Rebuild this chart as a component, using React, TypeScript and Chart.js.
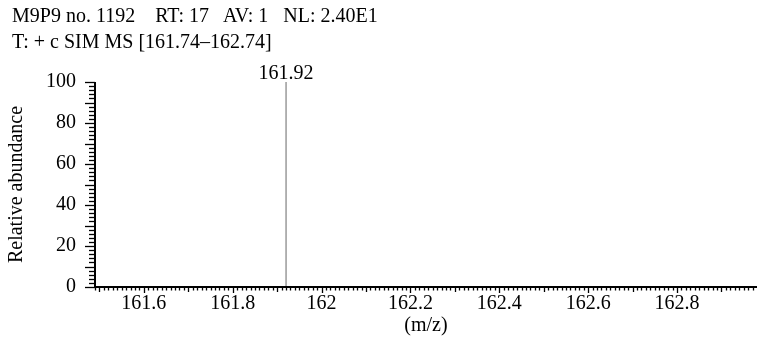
import React, { useEffect, useRef } from 'react';
import { Chart, registerables } from 'chart.js';

Chart.register(...registerables);

// ---- data ----
const headerLines = [
  'M9P9 no. 1192    RT: 17   AV: 1   NL: 2.40E1',
  'T: + c SIM MS [161.74–162.74]',
];
const peakMz = [161.92];
const peakAbundance = [100];
const peakLabels = ['161.92'];
const xTickValues = [161.6, 161.8, 162, 162.2, 162.4, 162.6, 162.8];
const yTickValues = [0, 20, 40, 60, 80, 100];
const xRange = [161.49, 162.98];
const yRange = [0, 100];
const xAxisTitle = '(m/z)';
const yAxisTitle = 'Relative abundance';

const FONT_FAMILY = "'Liberation Serif', 'Times New Roman', serif";
const FONT_SIZE = 20;

const axesPlugin = {
  id: 'msAxes',
  afterDatasetsDraw(chart: any) {
    const { ctx, chartArea } = chart;
    const xs = chart.scales.x;
    const ys = chart.scales.y;
    ctx.save();
    ctx.strokeStyle = '#000';
    // axis lines
    ctx.lineWidth = 2;
    ctx.beginPath();
    ctx.moveTo(chartArea.left, chartArea.top);
    ctx.lineTo(chartArea.left, chartArea.bottom);
    ctx.lineTo(chartArea.right, chartArea.bottom);
    ctx.stroke();
    // x ticks (every 0.01)
    ctx.lineWidth = 1.3;
    const i0 = Math.ceil(xRange[0] * 100);
    const i1 = Math.floor(xRange[1] * 100);
    for (let i = i0; i <= i1; i++) {
      const px = Math.round(xs.getPixelForValue(i / 100)) + 0.5;
      const len = i % 20 === 0 ? 5 : i % 10 === 0 ? 4 : 2.5;
      ctx.beginPath();
      ctx.moveTo(px, chartArea.bottom);
      ctx.lineTo(px, chartArea.bottom + 1 + len);
      ctx.stroke();
    }
    // y ticks (every 2)
    for (let v = yRange[0]; v <= yRange[1]; v += 2) {
      const py = Math.round(ys.getPixelForValue(v)) + 0.5;
      const len = v % 10 === 0 ? 9 : 5;
      ctx.beginPath();
      ctx.moveTo(chartArea.left, py);
      ctx.lineTo(chartArea.left - 1 - len, py);
      ctx.stroke();
    }
    // peak labels
    ctx.fillStyle = '#000';
    ctx.font = `${FONT_SIZE}px ${FONT_FAMILY}`;
    ctx.textAlign = 'center';
    ctx.textBaseline = 'alphabetic';
    peakMz.forEach((mz, k) => {
      const px = xs.getPixelForValue(mz);
      const py = ys.getPixelForValue(peakAbundance[k]);
      ctx.fillText(peakLabels[k], px, py - 3);
    });
    ctx.restore();
  },
};

export default function App() {
  const canvasRef = useRef<HTMLCanvasElement | null>(null);

  useEffect(() => {
    document.body.style.margin = '0';
    const canvas = canvasRef.current;
    if (!canvas) return;
    const peakData: any[] = [];
    peakMz.forEach((mz, k) => {
      peakData.push({ x: mz, y: yRange[0] });
      peakData.push({ x: mz, y: peakAbundance[k] });
      peakData.push({ x: mz, y: null });
    });
    const chart = new Chart(canvas, {
      type: 'line',
      data: {
        datasets: [
          {
            data: peakData,
            borderColor: '#808080',
            borderWidth: 1.2,
            pointRadius: 0,
            spanGaps: false,
            fill: false,
          },
        ],
      },
      options: {
        animation: false,
        responsive: false,
        devicePixelRatio: 1,
        layout: { padding: { left: 4, top: 82, right: 0, bottom: 0 } },
        plugins: {
          legend: { display: false },
          tooltip: { enabled: false },
          title: { display: false },
        },
        scales: {
          x: {
            type: 'linear',
            min: xRange[0],
            max: xRange[1],
            afterBuildTicks: (s: any) => {
              s.ticks = xTickValues.map((v) => ({ value: v }));
            },
            afterFit: (s: any) => {
              s.height = 71;
            },
            grid: { display: false, drawTicks: false },
            border: { display: false },
            ticks: {
              autoSkip: false,
              maxRotation: 0,
              padding: 5,
              color: '#000',
              font: { family: FONT_FAMILY, size: FONT_SIZE },
              callback: (v: any) => String(Number(v).toFixed(1)).replace(/\.0$/, ''),
            },
            title: {
              display: true,
              text: xAxisTitle,
              color: '#000',
              font: { family: FONT_FAMILY, size: FONT_SIZE },
              padding: { top: 0, bottom: 20 },
            },
          },
          y: {
            type: 'linear',
            min: yRange[0],
            max: yRange[1],
            afterBuildTicks: (s: any) => {
              s.ticks = yTickValues.map((v) => ({ value: v }));
            },
            afterFit: (s: any) => {
              s.width = 91;
            },
            grid: { display: false, drawTicks: false },
            border: { display: false },
            ticks: {
              padding: 19,
              color: '#000',
              font: { family: FONT_FAMILY, size: FONT_SIZE },
            },
            title: {
              display: true,
              text: yAxisTitle,
              color: '#000',
              font: { family: FONT_FAMILY, size: FONT_SIZE },
              padding: { top: 1, bottom: 0 },
            },
          },
        },
      },
      plugins: [axesPlugin],
    });
    return () => chart.destroy();
  }, []);

  return (
    <div style={{ position: 'relative', width: 757, height: 358, background: '#fff' }}>
      <canvas ref={canvasRef} width={757} height={358} style={{ position: 'absolute', left: 0, top: 0 }} />
      <div
        style={{
          position: 'absolute',
          left: 12,
          top: 2,
          fontFamily: FONT_FAMILY,
          fontSize: FONT_SIZE,
          lineHeight: '26px',
          color: '#000',
          whiteSpace: 'pre',
        }}
      >
        {headerLines.map((l, i) => (
          <div key={i}>{l}</div>
        ))}
      </div>
    </div>
  );
}
